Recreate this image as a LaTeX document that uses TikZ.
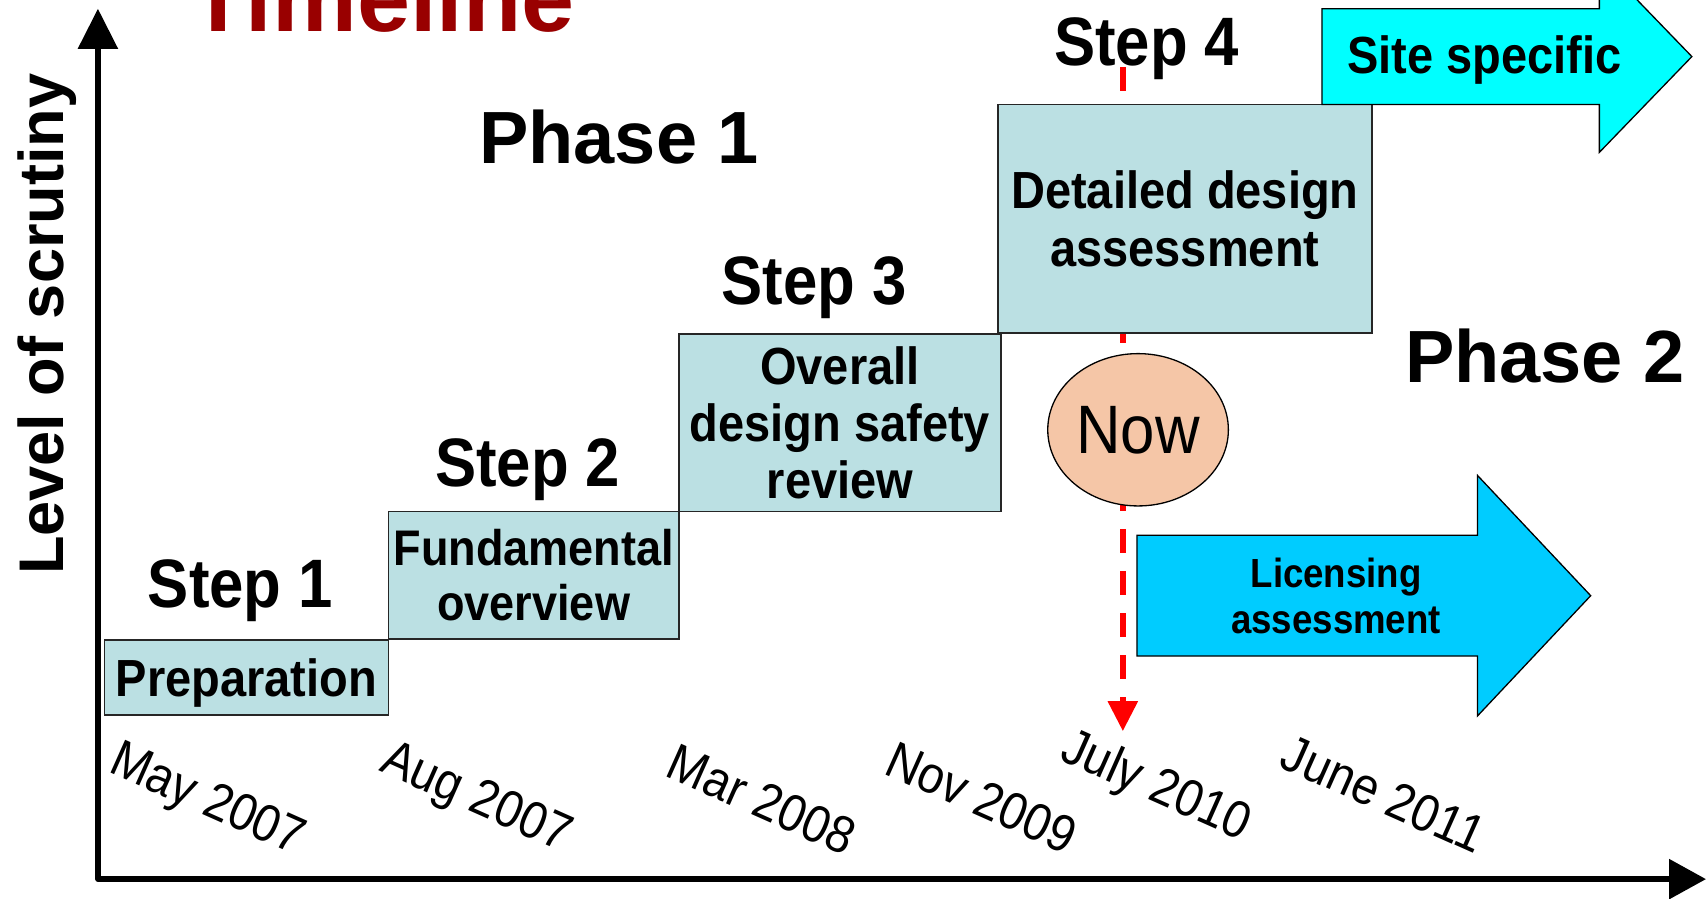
\documentclass[tikz,border=0pt]{standalone}
\usepackage{fontspec}
\setmainfont{Liberation Sans}
\newfontfamily\narrowfont[FakeStretch=0.9]{Liberation Sans}
\usetikzlibrary{arrows.meta,shapes.geometric}
\definecolor{boxblue}{RGB}{187,224,227}
\definecolor{nowpeach}{RGB}{245,198,167}
\definecolor{sitecyan}{RGB}{0,255,255}
\definecolor{licblue}{RGB}{0,204,255}
\definecolor{titlered}{RGB}{153,0,0}
\begin{document}
\begin{tikzpicture}[x=0.5pt,y=-0.5pt,
  stepbox/.style={draw=black!85, line width=0.8pt, fill=boxblue, inner sep=0pt, outer sep=0pt, align=center, font=\narrowfont\bfseries\fontsize{24}{26.5}\selectfont},
  steplabel/.style={anchor=base, inner sep=0pt, font=\narrowfont\bfseries\fontsize{31.5}{36}\selectfont},
  phaselabel/.style={anchor=base, inner sep=0pt, font=\bfseries\fontsize{34}{39}\selectfont},
  datelabel/.style={rotate=-24, inner sep=0pt, font=\narrowfont\fontsize{24}{27}\selectfont},
  axis/.style={line width=2.5pt, line join=round, {Triangle[length=18.5pt,width=18pt]}-{Triangle[length=17pt,width=18pt]}},
  arrowshape/.style={draw=black, line width=0.6pt},
  arrowtext/.style={inner sep=0pt, align=center},
]
\useasboundingbox (0,0) rectangle (1568,826);

% axes
\coordinate (ytip) at (90,8);
\coordinate (origin) at (90,808);
\coordinate (xtip) at (1568,808);
\draw[axis] (ytip) -- (origin) -- (xtip);

% red "now" line
\coordinate (nowtop) at (1032,62);
\coordinate (nowbot) at (1032,672);
\draw[red, line width=2.7pt, dash pattern=on 11pt off 8.3pt, -{Triangle[length=13.8pt,width=13.3pt]}] (nowtop) -- (nowbot);

% step boxes
\node[stepbox, minimum width=130.5pt, minimum height=34.5pt, text depth=0pt] (prep) at (226.5,622.5) {Preparation};
\node[stepbox, minimum width=133.5pt, minimum height=58.5pt, font=\narrowfont\bfseries\fontsize{23}{25}\selectfont] (fund) at (490.5,528.5) {Fundamental\\overview};
\node[stepbox, minimum width=148pt, minimum height=81.5pt, font=\narrowfont\bfseries\fontsize{24}{26.25}\selectfont] (overall) at (772,388.5) {Overall\\design safety\\review};
\node[stepbox, minimum width=172pt, minimum height=105pt] (detail) at (1089,201) {Detailed design\\assessment};

% now ellipse
\node[ellipse, draw=black, line width=0.6pt, fill=nowpeach, minimum width=83pt, minimum height=70pt, inner sep=0pt, font=\narrowfont\fontsize{31.5}{36}\selectfont] (now) at (1046,395) {Now};

% phase 2 arrows
\draw[arrowshape, fill=sitecyan] (1215,8) -- (1470,8) -- (1470,-36) -- (1555,52) -- (1470,140) -- (1470,96) -- (1215,96) -- cycle;
\node[anchor=base, inner sep=0pt, font=\narrowfont\bfseries\fontsize{24}{28}\selectfont] (site) at (1364.5,68) {Site specific};

\draw[arrowshape, fill=licblue] (1045,492) -- (1358,492) -- (1358,437) -- (1462,547.5) -- (1358,658) -- (1358,603) -- (1045,603) -- cycle;
\node[arrowtext, font=\narrowfont\bfseries\fontsize{18.7}{21}\selectfont] (lic) at (1228,547.5) {Licensing\\assessment};

% labels
\node[anchor=base, inner sep=0pt, text=titlered, font=\bfseries\fontsize{43.8}{50}\selectfont] (title) at (351,29) {Timeline};
\node[anchor=base, rotate=90, inner sep=0pt, font=\bfseries\fontsize{29}{34}\selectfont] (ylabel) at (58,298) {Level of scrutiny};

\node[steplabel] (s1) at (221,558) {Step 1};
\node[steplabel] (s2) at (485,447) {Step 2};
\node[steplabel] (s3) at (748.5,280) {Step 3};
\node[steplabel] (s4) at (1054,60) {Step 4};

\node[phaselabel] (p1) at (569,150) {Phase 1};
\node[phaselabel] (p2) at (1420,352) {Phase 2};

% dates
\node[datelabel] (d1) at (190,737) {May 2007};
\node[datelabel] (d2) at (437,735) {Aug 2007};
\node[datelabel] (d3) at (700,735) {Mar 2008};
\node[datelabel] (d4) at (902,733) {Nov 2009};
\node[datelabel] (d5) at (1062,724) {July 2010};
\node[datelabel] (d6) at (1272,730) {June 2011};
\end{tikzpicture}
\end{document}
